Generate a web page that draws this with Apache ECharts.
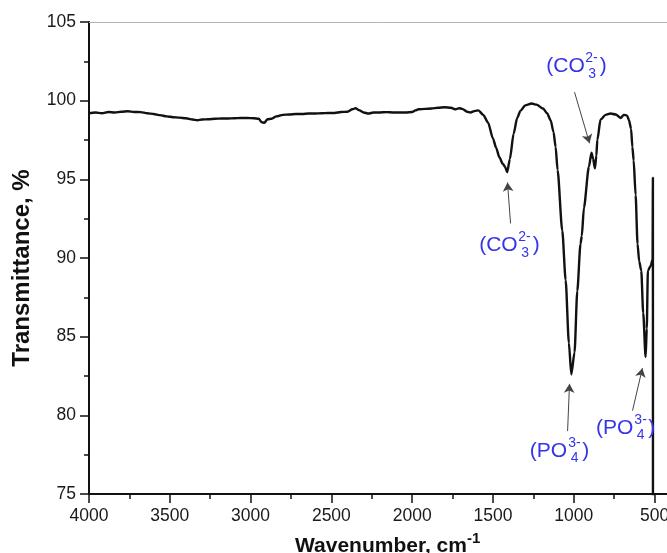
<!DOCTYPE html>
<html>
<head>
<meta charset="utf-8">
<script src="https://cdn.jsdelivr.net/npm/echarts@6/dist/echarts.min.js"></script>
<style>
html,body{margin:0;padding:0;background:#fff;overflow:hidden;}
#chart{width:667px;height:553px;}
</style>
</head>
<body>
<div id="chart"></div>
<script>
// Wavenumber (cm^-1) and transmittance (%)
const wavenumbers = [
  4000,3960,3920,3880,3840,3800,3760,3720,3680,3640,3600,3560,3520,3480,3440,3400,3360,3330,3300,3260,
  3220,3180,3140,3100,3060,3020,2980,2950,2930,2915,2895,2870,2840,2800,2760,2720,2680,2640,2600,2560,
  2520,2480,2440,2400,2370,2350,2330,2300,2270,2240,2200,2160,2120,2080,2040,2000,1980,1960,1920,1880,
  1840,1800,1760,1730,1710,1690,1660,1640,1610,1590,1560,1530,1500,1480,1460,1440,1425,1412,1395,1372,
  1350,1330,1300,1260,1230,1190,1165,1143,1125,1112,1100,1071,1050,1030,1015,995,978,958,950,937,
  906,890,880,869,860,854,834,803,772,740,710,690,670,658,645,637,629,617,605,595,
  582,570,555,548,541,524,512,510,509
];
const transmittance = [
  99.20,99.25,99.20,99.28,99.25,99.30,99.33,99.28,99.27,99.20,99.15,99.08,99.00,98.95,98.92,98.88,98.80,98.76,98.80,98.82,
  98.85,98.87,98.87,98.88,98.90,98.90,98.88,98.85,98.62,98.60,98.82,98.85,99.00,99.10,99.12,99.15,99.15,99.18,99.18,99.20,
  99.22,99.22,99.28,99.30,99.45,99.52,99.40,99.25,99.18,99.25,99.25,99.27,99.25,99.25,99.25,99.28,99.38,99.45,99.48,99.50,
  99.55,99.58,99.55,99.45,99.52,99.48,99.30,99.25,99.35,99.38,99.10,98.60,97.60,97.00,96.40,96.00,95.80,95.45,96.30,97.90,
  98.90,99.35,99.70,99.82,99.75,99.50,99.20,98.76,98.00,97.06,95.60,91.75,88.60,84.60,82.60,84.00,87.90,90.90,91.40,93.20,
  95.80,96.70,96.30,95.70,96.50,97.50,98.80,99.10,99.18,99.12,98.90,99.10,99.05,98.76,98.20,97.06,96.20,94.00,90.90,89.80,
  89.20,86.50,83.70,85.50,89.20,89.50,89.90,95.10,40.00
];

// Axis ticks
const xTicks = [4000,3500,3000,2500,2000,1500,1000,500];
const yTicks = [75,80,85,90,95,100,105];

// Band annotations: main text, superscript, text anchor (wn, %), arrow from/to (wn, %)
const annotMain = ['(CO{b|3}{m|)}', '(CO{b|3}{m|)}', '(PO{b|4}{m|)}', '(PO{b|4}{m|)}'];
const annotSup = ['2-', '2-', '3-', '3-'];
const annotAt = [[983,102.17],[1398,90.80],[1088,77.74],[679,79.20]];
const arrowFrom = [[995,100.54],[1391,92.2],[1038,79.0],[636,80.3]];
const arrowTo = [[902,97.29],[1410,94.8],[1026,82.0],[575,83.0]];

const spectrum = wavenumbers.map((w, i) => [w, transmittance[i]]);

const FONT = 'Liberation Sans, Arial, sans-serif';
const BLUE = '#3535e8';

const markPointData = [];
annotAt.forEach((c, i) => {
  markPointData.push({
    coord: c, symbol: 'circle', symbolSize: 1,
    itemStyle: {color: 'rgba(0,0,0,0)'},
    label: {
      show: true, position: 'inside', offset: [0, 0],
      formatter: '{m|' + annotMain[i].replace('{b|', '}{b|'),
      rich: {
        m: {fontSize: 21, color: BLUE, fontFamily: FONT, lineHeight: 29},
        b: {fontSize: 14, color: BLUE, fontFamily: FONT, lineHeight: 14, verticalAlign: 'bottom', width: 15}
      }
    }
  });
  markPointData.push({
    coord: c, symbol: 'circle', symbolSize: 1,
    itemStyle: {color: 'rgba(0,0,0,0)'},
    label: {
      show: true, position: 'inside', offset: [15, -8],
      formatter: annotSup[i],
      fontSize: 14, color: BLUE, fontFamily: FONT
    }
  });
});

const markLineData = arrowFrom.map((f, i) => [{coord: f}, {coord: arrowTo[i]}]);

const chart = echarts.init(document.getElementById('chart'), null, {renderer: 'canvas'});

const axisCommon = {
  axisLine: {show: true, onZero: false, lineStyle: {color: '#111', width: 2}},
  axisTick: {show: true, inside: false, length: 9, lineStyle: {color: '#111', width: 1.5}},
  minorTick: {show: true, splitNumber: 2, length: 5, lineStyle: {color: '#111', width: 1.5}},
  splitLine: {show: false},
  axisLabel: {color: '#1a1a1a', fontSize: 17.5, fontFamily: FONT, margin: 13}
};

chart.setOption({
  backgroundColor: '#fff',
  animation: false,
  title: {
    left: 295, top: 531, padding: 0,
    text: '{a|Wavenumber, cm}{s|-1}',
    textStyle: {
      rich: {
        a: {fontSize: 21, fontWeight: 'bold', color: '#111', fontFamily: FONT, lineHeight: 30},
        s: {fontSize: 15, fontWeight: 'bold', color: '#111', fontFamily: FONT, lineHeight: 10, verticalAlign: 'top'}
      }
    }
  },
  grid: {left: 89, top: 22, height: 472, width: 646.3, containLabel: false, outerBoundsMode: 'none'},
  xAxis: [
    Object.assign({}, axisCommon, {
      type: 'value', inverse: true, min: 0, max: 4000, interval: 500,
      position: 'bottom',
      axisLabel: Object.assign({}, axisCommon.axisLabel, {
        formatter: v => (xTicks.indexOf(v) >= 0 ? String(v) : '')
      })
    }),
    {
      type: 'value', inverse: true, min: 0, max: 4000, position: 'top',
      axisLine: {show: true, onZero: false, lineStyle: {color: '#b5b5b5', width: 1}},
      axisTick: {show: false}, axisLabel: {show: false}, splitLine: {show: false}
    }
  ],
  yAxis: Object.assign({}, axisCommon, {
    type: 'value', min: 75, max: 105, interval: 5,
    axisLabel: Object.assign({}, axisCommon.axisLabel, {
      formatter: v => (yTicks.indexOf(v) >= 0 ? String(v) : '')
    }),
    name: 'Transmittance, %',
    nameLocation: 'middle',
    nameGap: 55,
    nameTextStyle: {fontSize: 24, fontWeight: 'bold', color: '#111', fontFamily: FONT, padding: [0, 20, 0, 0]}
  }),
  series: [{
    type: 'line',
    xAxisIndex: 0,
    data: spectrum,
    showSymbol: false,
    symbol: 'none',
    smooth: 0.25,
    smoothMonotone: 'x',
    clip: true,
    lineStyle: {color: '#111', width: 2.4},
    markLine: {
      silent: true,
      symbol: ['none', 'arrow'],
      symbolSize: [8, 9],
      label: {show: false},
      lineStyle: {color: '#444', width: 1, type: 'solid'},
      data: markLineData
    },
    markPoint: {
      silent: true,
      data: markPointData
    }
  }]
});
</script>
</body>
</html>
